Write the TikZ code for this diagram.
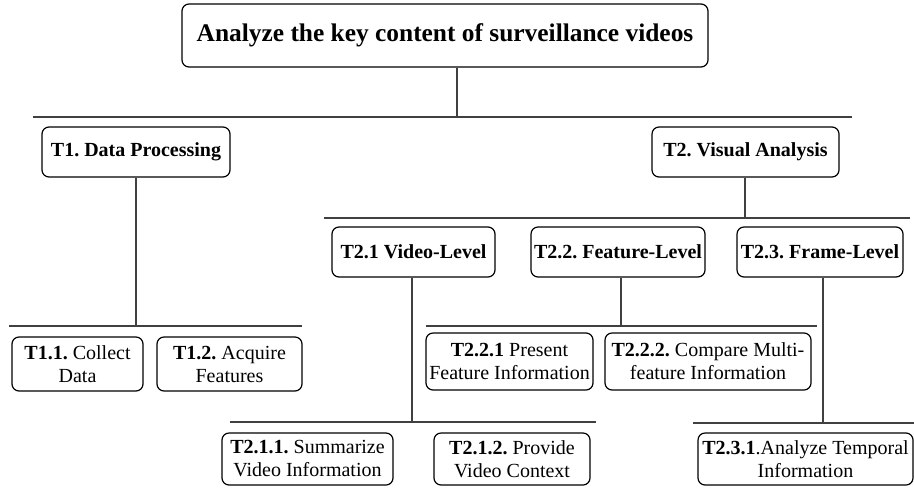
\documentclass[tikz,border=0pt]{standalone}
\usepackage{fontspec}
\setmainfont{Liberation Serif}
\frenchspacing
\begin{document}
\begin{tikzpicture}[x=0.5pt, y=-0.5pt,
    task box/.style={draw, rounded corners=3.5pt, inner sep=0pt, align=center, line width=0.6pt},
    head node/.style={task box, minimum height=25pt, font=\fontsize{10}{12}\selectfont\bfseries},
    leaf node/.style={task box, font=\fontsize{10}{11.5}\selectfont},
    bus/.style={line width=0.7pt, black!75}]

  \useasboundingbox (0,0) rectangle (914,488);

  \node[task box, minimum width=263pt, minimum height=31.5pt,
        font=\fontsize{12.7}{15}\selectfont\bfseries] (root) at (445,35.5)
        {Analyze the key content of surveillance videos};

  \node[head node, minimum width=94pt] (t1) at (136,152) {T1. Data Processing};
  \node[head node, minimum width=93.5pt] (t2) at (745.5,152) {T2. Visual Analysis};
  \node[head node, minimum width=81.5pt] (t21) at (413.5,252) {T2.1 Video-Level};
  \node[head node, minimum width=87pt] (t22) at (618,252) {T2.2. Feature-Level};
  \node[head node, minimum width=83pt] (t23) at (820,252) {T2.3. Frame-Level};

  \node[leaf node, minimum width=65.5pt, minimum height=27pt] (t11) at (77.5,364) {\textbf{T1.1.} Collect\\Data};
  \node[leaf node, minimum width=72.5pt, minimum height=27pt] (t12) at (229.5,364) {\textbf{T1.2.} Acquire\\Features};
  \node[leaf node, minimum width=83.5pt, minimum height=28.5pt] (t221) at (509.5,361.5) {\textbf{T2.2.1} Present\\Feature Information};
  \node[leaf node, minimum width=103pt, minimum height=28.5pt] (t222) at (708,361.5) {\textbf{T2.2.2.} Compare Multi-\\feature Information};
  \node[leaf node, minimum width=85.5pt, minimum height=26pt] (t211) at (307.5,459) {\textbf{T2.1.1.} Summarize\\Video Information};
  \node[leaf node, minimum width=78pt, minimum height=26pt] (t212) at (512,459) {\textbf{T2.1.2.} Provide\\Video Context};
  \node[leaf node, minimum width=107.5pt, minimum height=26pt] (t231) at (805.5,459) {\textbf{T2.3.1}.Analyze Temporal\\Information};

  % bus bars
  \coordinate (b0) at (457,117);  \coordinate (b0w) at (33,117);  \coordinate (b0e) at (852,117);
  \coordinate (b1) at (136,326);  \coordinate (b1w) at (9,326);   \coordinate (b1e) at (302,326);
  \coordinate (b2) at (745,218);  \coordinate (b2w) at (324,218); \coordinate (b2e) at (910,218);
  \coordinate (b21) at (412,422); \coordinate (b21w) at (230,422); \coordinate (b21e) at (596,422);
  \coordinate (b22) at (621,326); \coordinate (b22w) at (426,326); \coordinate (b22e) at (817,326);
  \coordinate (b23) at (823,423); \coordinate (b23w) at (693,423); \coordinate (b23e) at (914,423);

  \path[bus]
  (root.south -| b0) edge (b0)
  (b0w) edge (b0e)
  (t1.south -| b1) edge (b1)
  (b1w) edge (b1e)
  (t2.south -| b2) edge (b2)
  (b2w) edge (b2e)
  (t21.south -| b21) edge (b21)
  (b21w) edge (b21e)
  (t22.south -| b22) edge (b22)
  (b22w) edge (b22e)
  (t23.south -| b23) edge (b23)
  (b23w) edge (b23e);

\end{tikzpicture}
\end{document}
